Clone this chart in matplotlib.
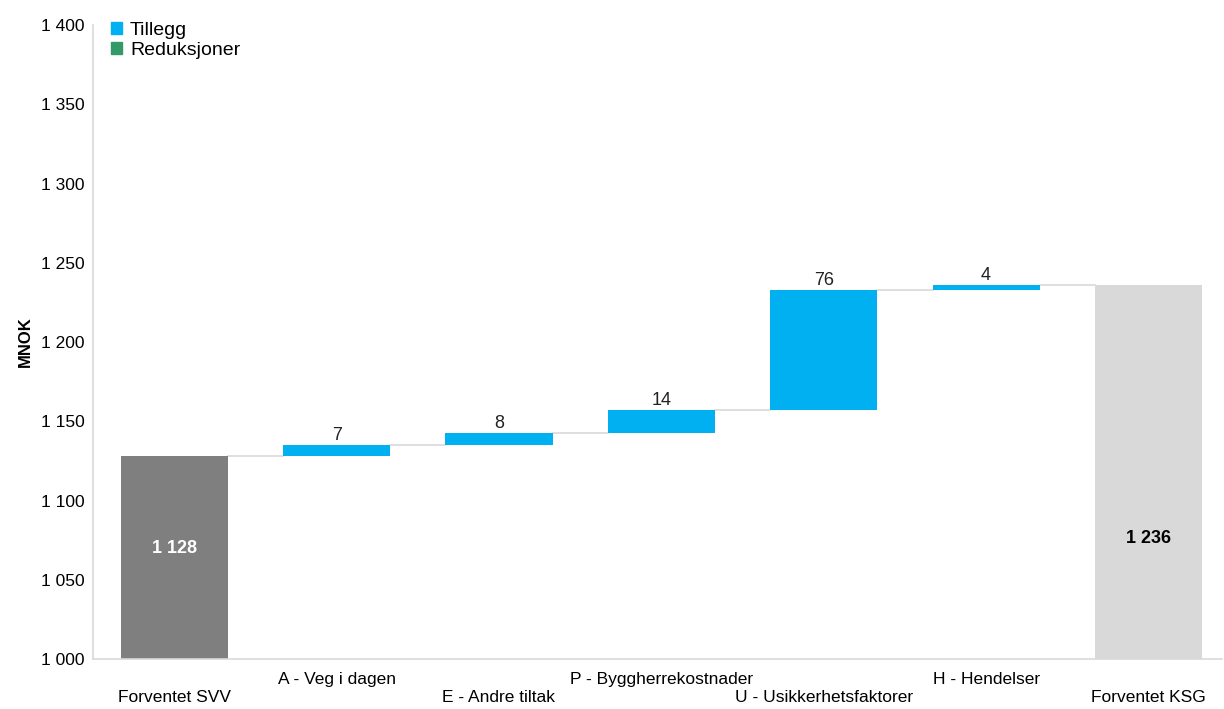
import matplotlib.pyplot as plt
from matplotlib.patches import Patch

categories = ["Forventet SVV", "A - Veg i dagen", "E - Andre tiltak", "P - Byggherrekostnader",
              "U - Usikkerhetsfaktorer", "H - Hendelser", "Forventet KSG"]
start_value = 1128
increments = [7.2, 7.7, 14.2, 75.6, 3.6]
end_value = 1236
yticks = [1000, 1050, 1100, 1150, 1200, 1250, 1300, 1350, 1400]
total_label_y = [1070, 1076]  # where the bold totals sit inside the bars

c_start = "#7f7f7f"
c_add = "#00b0f0"
c_red = "#339966"
c_end = "#d9d9d9"
c_grid = "#d9d9d9"

plt.rcParams["font.family"] = ["Liberation Sans", "DejaVu Sans"]

fig = plt.figure(figsize=(12.24, 7.09), dpi=100)
ax = fig.add_axes([0.076, 0.0705, 0.922, 0.894])

base = 1000
width = 0.66
x = list(range(len(categories)))

# start bar
ax.bar(x[0], start_value - base, width, bottom=base, color=c_start)
ax.text(x[0], total_label_y[0], "1 128", ha="center", va="center",
        color="white", fontsize=13, fontweight="bold")

# floating bars
level = start_value
tops = [start_value]
for i, inc in enumerate(increments):
    xi = x[i + 1]
    ax.bar(xi, inc, width, bottom=level, color=c_add)
    ax.text(xi, level + inc + 0.6, f"{inc:.0f}", ha="center", va="bottom", fontsize=13, color="#222222")
    level += inc
    tops.append(level)

# end bar
ax.bar(x[-1], end_value - base, width, bottom=base, color=c_end)
ax.text(x[-1], total_label_y[1], "1 236", ha="center", va="center",
        color="black", fontsize=13, fontweight="bold")
tops.append(end_value)

# connector lines
for i in range(len(categories) - 1):
    ax.plot([x[i] + width / 2, x[i + 1] - width / 2], [tops[i], tops[i]],
            color=c_grid, lw=1.2, zorder=0)

ax.set_xlim(-0.5, 6.45)
ax.set_ylim(1000, 1400)
ax.set_yticks(yticks)
ax.set_yticklabels([f"{v:,}".replace(",", " ") for v in yticks], fontsize=12.5)
ax.set_xticks(x)
ax.set_xticklabels(categories, fontsize=12.5)
for i, lab in enumerate(ax.get_xticklabels()):
    lab.set_y(-0.04 if i % 2 == 0 else -0.012)
ax.tick_params(length=0)
ax.tick_params(axis="y", pad=6)
ax.tick_params(axis="x", pad=4)
ax.set_ylabel("MNOK", fontsize=12, fontweight="bold", labelpad=6)

for s in ["top", "right"]:
    ax.spines[s].set_visible(False)
for s in ["left", "bottom"]:
    ax.spines[s].set_color(c_grid)
    ax.spines[s].set_linewidth(1.2)

handles = [Patch(color=c_add, label="Tillegg"), Patch(color=c_red, label="Reduksjoner")]
ax.legend(handles=handles, loc="upper left", bbox_to_anchor=(0.0, 1.033), frameon=False,
          fontsize=14, handlelength=0.6, handleheight=0.6, handletextpad=0.4, labelspacing=0.15)

fig.savefig("out.png", dpi=100)
